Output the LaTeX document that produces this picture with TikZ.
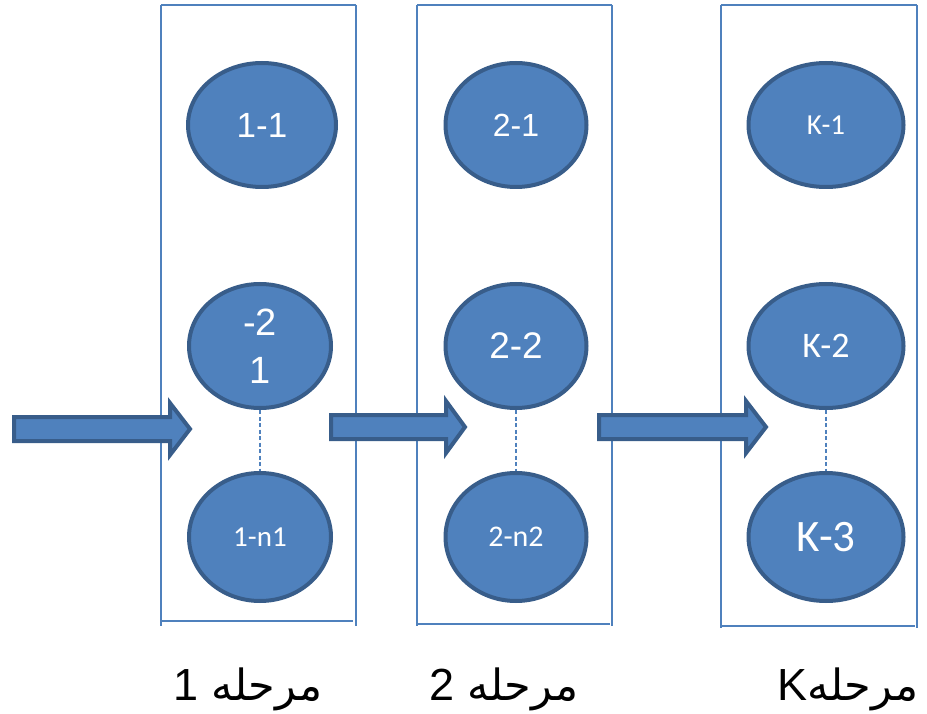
\documentclass[tikz,border=0pt]{standalone}
\usepackage{fontspec}
\setmainfont{Liberation Sans}
\newfontfamily\calfont{Carlito}
\newfontfamily\arabicfont[Script=Arabic]{DejaVu Sans}
\TeXXeTstate=1
\definecolor{fillblue}{HTML}{4F81BD}
\definecolor{edgeblue}{HTML}{385D8A}
\tikzset{
  x=1pt, y=-1pt,
  stage/.style={ellipse, draw=edgeblue, line width=4pt, fill=fillblue, text=white,
    inner sep=0pt, align=center},
  boxline/.style={draw=fillblue, line width=1.3pt},
  dots/.style={draw=fillblue, line width=1.4pt, dash pattern=on 4pt off 2.5pt},
  blockarrow/.style={fill=fillblue, draw=edgeblue, line width=4pt, line join=miter},
  steplabel/.style={text=black, inner sep=0pt}
}
\usetikzlibrary{shapes.geometric}
\newcommand{\fs}[1]{\fontsize{#1}{#1}\selectfont}
\begin{document}
\begin{tikzpicture}
\useasboundingbox (0,0) rectangle (927,714);
% boxes
\draw[boxline] (161,5) -- (356,5);
\draw[boxline] (161,5) -- (161,626);
\draw[boxline] (356,5) -- (356,626);
\draw[boxline] (161,621) -- (353,621);
\draw[boxline] (417,5) -- (612,5);
\draw[boxline] (417,5) -- (417,626);
\draw[boxline] (612,5) -- (612,626);
\draw[boxline] (417,624) -- (610,624);
\draw[boxline] (721,5) -- (917,5);
\draw[boxline] (721,5) -- (721,628);
\draw[boxline] (917,5) -- (917,628);
\draw[boxline] (721,626) -- (915,626);
% stage 1
\node[stage, minimum width=148, minimum height=124, font=\fs{35}] (a1) at (262,125) {1-1};
\node[stage, minimum width=142, minimum height=124, font=\fontsize{38}{48}\selectfont] (a2) at (260,346) {-2\\1};
\node[stage, minimum width=142, minimum height=128, font=\calfont\fs{29}] (a3) at (260,537) {1-n1};
% stage 2
\node[stage, minimum width=141, minimum height=124, font=\fs{32}] (b1) at (516,125) {2-1};
\node[stage, minimum width=141, minimum height=124, font=\fs{37}] (b2) at (516,346) {2-2};
\node[stage, minimum width=141, minimum height=128, font=\calfont\fs{30}] (b3) at (516,537) {2-n2};
% stage K
\node[stage, minimum width=155, minimum height=124, font=\calfont\fs{29}] (c1) at (826,125) {K-1};
\node[stage, minimum width=155, minimum height=124, font=\calfont\fs{36}] (c2) at (826,346) {K-2};
\node[stage, minimum width=155, minimum height=128, font=\calfont\fs{45}] (c3) at (826,537) {K-3};
% dashed links
\draw[dots] (a2.south) -- (a3.north);
\draw[dots] (b2.south) -- (b3.north);
\draw[dots] (c2.south) -- (c3.north);
% block arrows
\newcommand{\barrow}[4]{% start x, head base x, tip x, centre y
  \draw[blockarrow] (#1,#4-12) -- (#2,#4-12) -- (#2,#4-26) -- (#3,#4) -- (#2,#4+26) -- (#2,#4+12) -- (#1,#4+12) -- cycle;}
\barrow{14}{170}{190}{429}
\barrow{331}{446}{465}{427}
\barrow{599}{746}{766}{427}
% labels
\node[steplabel] (l1) at (248,689) {\fs{45}\beginR{\arabicfont\fs{43}مرحله} 1\endR};
\node[steplabel] (l2) at (504,689) {\fs{45}\beginR{\arabicfont\fs{43}مرحله} 2\endR};
\node[steplabel] (l3) at (848,689) {\fs{45}\beginR{\arabicfont\fs{43}مرحله}K\endR};
\end{tikzpicture}
\end{document}
